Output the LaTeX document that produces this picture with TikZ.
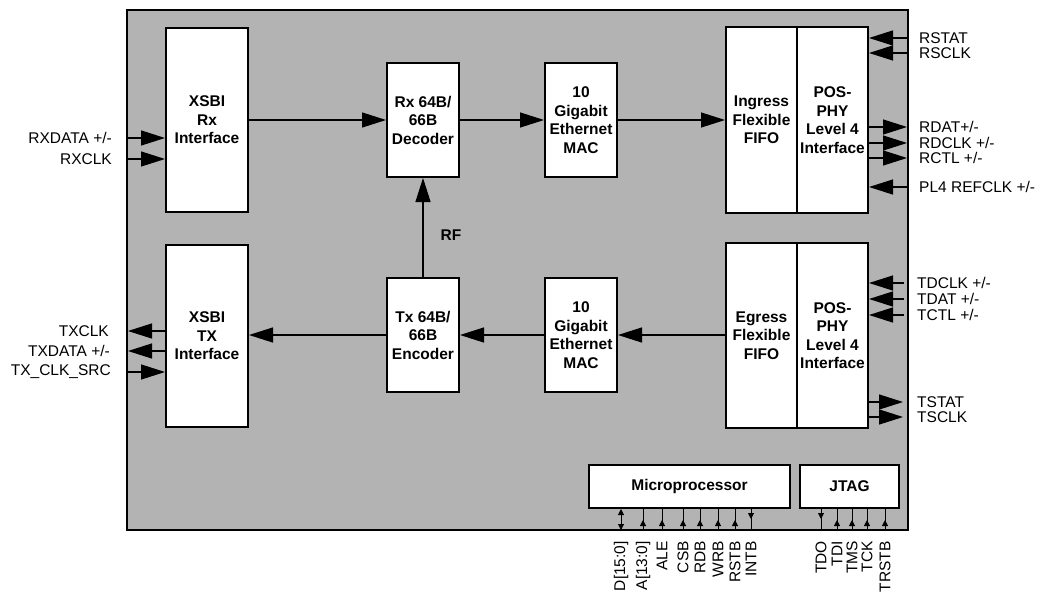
\documentclass[tikz,border=0pt]{standalone}
\usepackage{fontspec}
\setmainfont{Liberation Sans}
\usetikzlibrary{arrows.meta,decorations.markings,calc}
\definecolor{chipgray}{RGB}{179,179,179}
\begin{document}
\begin{tikzpicture}[x=1pt,y=-1pt,
  every node/.style={font=\fontsize{15.5}{18}\selectfont},
  blk/.style={draw, line width=2pt, fill=white, align=center, inner sep=0pt,
    font=\fontsize{15.5}{18.5}\selectfont\bfseries},
  lbl/.style={inner sep=0pt, font=\fontsize{15.5}{18}\selectfont},
  sig/.style={line width=1.3pt, -{Triangle[length=24pt,width=15pt]}},
  pinln/.style={line width=1pt},
  pinup/.style={pinln, postaction={decorate}, decoration={markings,
      mark=at position 10pt with {\arrow{Triangle[length=6pt,width=6pt]}}}},
  pindn/.style={pinln, postaction={decorate}, decoration={markings,
      mark=at position 10pt with {\arrow{Triangle[length=6pt,width=6pt]}}}},
  pinbi/.style={pinln, {Triangle[length=6pt,width=6pt]}-{Triangle[length=6pt,width=6pt]}},
  plbl/.style={lbl, rotate=90, anchor=east}
]
\useasboundingbox (0,0) rectangle (1040,591);
% chip outline
\node[draw, line width=1.5pt, fill=chipgray, minimum width=781pt, minimum height=520pt, inner sep=0pt] (chip) at (517.5,270) {};

% blocks
\node[blk, minimum width=82pt, minimum height=183pt] (rxi) at (207,120) {XSBI\\Rx\\Interface};
\node[blk, minimum width=82pt, minimum height=182pt] (txi) at (207,336) {XSBI\\TX\\Interface};
\node[blk, minimum width=72pt, minimum height=114pt] (dec) at (423,120) {Rx 64B/\\66B\\Decoder};
\node[blk, minimum width=72pt, minimum height=114pt] (mac1) at (581,120) {10\\Gigabit\\Ethernet\\MAC};
\node[blk, minimum width=72pt, minimum height=114pt] (enc) at (423,335) {Tx 64B/\\66B\\Encoder};
\node[blk, minimum width=72pt, minimum height=114pt] (mac2) at (581,335) {10\\Gigabit\\Ethernet\\MAC};
\node[blk, minimum width=71pt, minimum height=186pt] (ing) at (761.5,120) {Ingress\\Flexible\\FIFO};
\node[blk, minimum width=71pt, minimum height=186pt] (pos1) at (832.5,120) {POS-\\PHY\\Level 4\\Interface};
\node[blk, minimum width=71pt, minimum height=185pt] (egr) at (761.5,335.5) {Egress\\Flexible\\FIFO};
\node[blk, minimum width=71pt, minimum height=185pt] (pos2) at (832.5,335.5) {POS-\\PHY\\Level 4\\Interface};
\node[blk, minimum width=201pt, minimum height=43pt] (micro) at (689.5,486.5) {Microprocessor};
\node[blk, minimum width=99pt, minimum height=43pt] (jtag) at (849.5,486.5) {JTAG};

% internal data path
\draw[sig] (rxi.east |- dec.west) -- (dec.west);
\draw[sig] (dec.east) -- (mac1.west);
\draw[sig] (mac1.east) -- (ing.west);
\draw[sig] (egr.west |- mac2.east) -- (mac2.east);
\draw[sig] (mac2.west) -- (enc.east);
\draw[sig] (enc.west) -- (txi.east |- enc.west);
\draw[sig] (enc.north) -- (dec.south);
\node[lbl, font=\fontsize{15.5}{18}\selectfont\bfseries] (rf) at (451,235) {RF};

% left side signals
\coordinate (lrxd) at (127,138);
\coordinate (lrxc) at (127,159);
\coordinate (ltxc) at (128,331);
\coordinate (ltxd) at (128,351);
\coordinate (ltxs) at (127,372);
\draw[sig] (lrxd) -- (lrxd -| rxi.west);
\draw[sig] (lrxc) -- (lrxc -| rxi.west);
\draw[sig] (ltxc -| txi.west) -- (ltxc);
\draw[sig] (ltxd -| txi.west) -- (ltxd);
\draw[sig] (ltxs) -- (ltxs -| txi.west);
\node[lbl, anchor=east] (trxd) at (112,138) {RXDATA +/-};
\node[lbl, anchor=east] (trxc) at (112,159) {RXCLK};
\node[lbl, anchor=east] (ttxc) at (109,331) {TXCLK};
\node[lbl, anchor=east] (ttxd) at (110,351) {TXDATA +/-};
\node[lbl, anchor=east] (ttxs) at (111,372) {TX\_CLK\_SRC};

% right side signals
\coordinate (rrst) at (908,38);
\coordinate (rrsc) at (908,53);
\coordinate (rrda) at (907,127);
\coordinate (rrdc) at (907,143);
\coordinate (rrct) at (907,158);
\coordinate (rref) at (908,187);
\coordinate (rtdc) at (904,283);
\coordinate (rtda) at (904,299);
\coordinate (rtct) at (904,315);
\coordinate (rtst) at (903,402);
\coordinate (rtsc) at (903,417);
\draw[sig] (rrst) -- (rrst -| pos1.east);
\draw[sig] (rrsc) -- (rrsc -| pos1.east);
\draw[sig] (rrda -| pos1.east) -- (rrda);
\draw[sig] (rrdc -| pos1.east) -- (rrdc);
\draw[sig] (rrct -| pos1.east) -- (rrct);
\draw[sig] (rref) -- (rref -| pos1.east);
\draw[sig] (rtdc) -- (rtdc -| pos2.east);
\draw[sig] (rtda) -- (rtda -| pos2.east);
\draw[sig] (rtct) -- (rtct -| pos2.east);
\draw[sig] (rtst -| pos2.east) -- (rtst);
\draw[sig] (rtsc -| pos2.east) -- (rtsc);
\node[lbl, anchor=west] (trst) at (919,38) {RSTAT};
\node[lbl, anchor=west] (trsc) at (919,53) {RSCLK};
\node[lbl, anchor=west] (trda) at (919,127) {RDAT+/-};
\node[lbl, anchor=west] (trdc) at (919,143) {RDCLK +/-};
\node[lbl, anchor=west] (trct) at (919,158) {RCTL +/-};
\node[lbl, anchor=west] (tref) at (919,187) {PL4 REFCLK +/-};
\node[lbl, anchor=west] (ttdc) at (917,283) {TDCLK +/-};
\node[lbl, anchor=west] (ttda) at (917,299) {TDAT +/-};
\node[lbl, anchor=west] (ttct) at (917,315) {TCTL +/-};
\node[lbl, anchor=west] (ttst) at (917,402) {TSTAT};
\node[lbl, anchor=west] (ttsc) at (917,417) {TSCLK};

% microprocessor pins
\coordinate (pD) at (621,530);
\coordinate (pA) at (643,530);
\coordinate (pALE) at (662,530);
\coordinate (pCSB) at (683,530);
\coordinate (pRDB) at (700,530);
\coordinate (pWRB) at (718,530);
\coordinate (pRSTB) at (735,530);
\coordinate (pINTB) at (751,530);
\draw[pinbi] (pD |- micro.south) -- (pD);
\foreach \p in {pA,pALE,pCSB,pRDB,pWRB,pRSTB}{
  \draw[pinup] (\p) -- (\p |- micro.south);
}
\draw[pindn] (pINTB |- micro.south) -- (pINTB);
\node[plbl] (tD) at (621,541) {D[15:0]};
\node[plbl] (tA) at (643,541) {A[13:0]};
\node[plbl] (tALE) at (662,541) {ALE};
\node[plbl] (tCSB) at (683,541) {CSB};
\node[plbl] (tRDB) at (700,541) {RDB};
\node[plbl] (tWRB) at (718,541) {WRB};
\node[plbl] (tRSTB) at (735,541) {RSTB};
\node[plbl] (tINTB) at (751,541) {INTB};

% JTAG pins
\coordinate (jTDO) at (821,530);
\coordinate (jTDI) at (837,530);
\coordinate (jTMS) at (852,530);
\coordinate (jTCK) at (867,530);
\coordinate (jTRST) at (885,530);
\draw[pindn] (jTDO |- jtag.south) -- (jTDO);
\foreach \p in {jTDI,jTMS,jTCK,jTRST}{
  \draw[pinup] (\p) -- (\p |- jtag.south);
}
\node[plbl] (tTDO) at (821,541) {TDO};
\node[plbl] (tTDI) at (837,541) {TDI};
\node[plbl] (tTMS) at (852,541) {TMS};
\node[plbl] (tTCK) at (867,541) {TCK};
\node[plbl] (tTRST) at (885,541) {TRSTB};
\end{tikzpicture}
\end{document}
